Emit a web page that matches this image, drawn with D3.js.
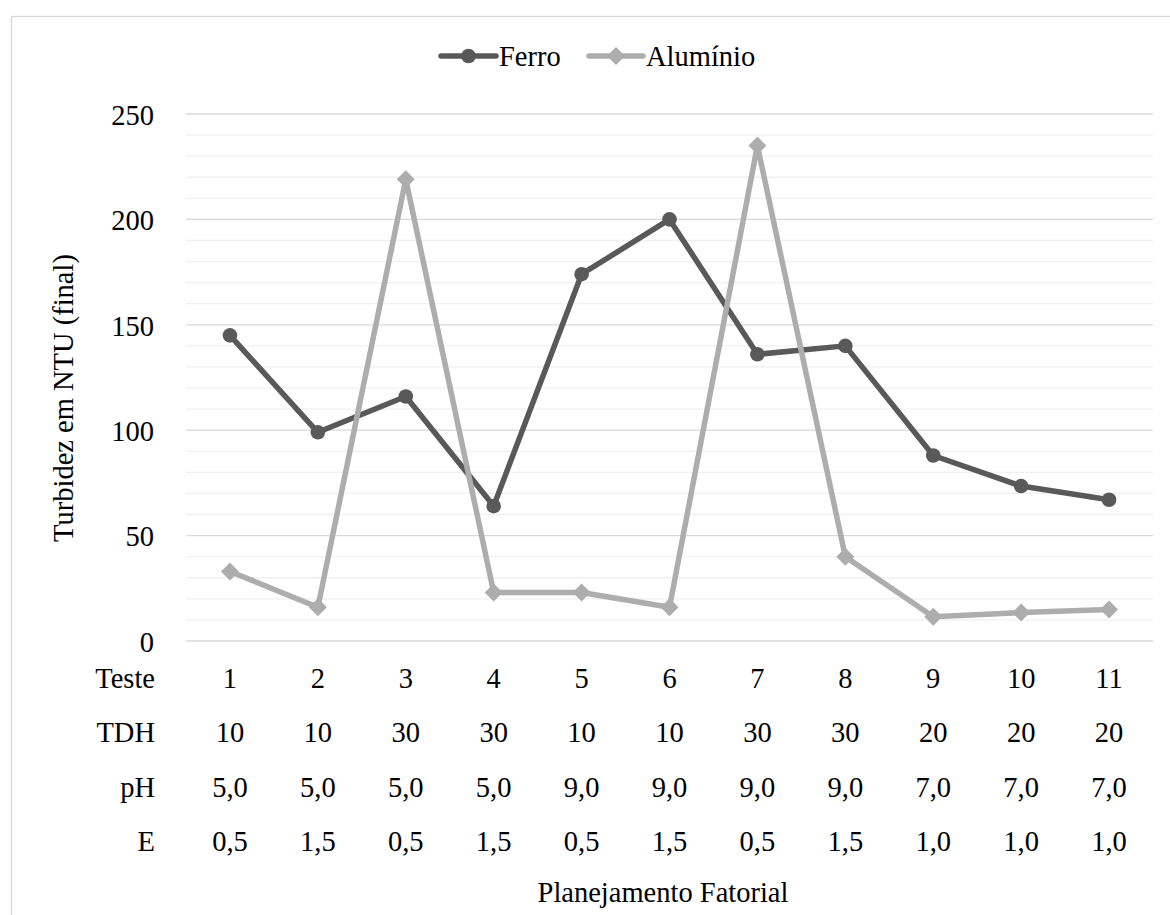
<!DOCTYPE html>
<html>
<head>
<meta charset="utf-8">
<script src="https://cdn.jsdelivr.net/npm/d3@7"></script>
</head>
<body style="margin:0">
<svg id="chart" width="1170" height="915" font-family="Liberation Serif"></svg>
<script>
// Test numbers and factorial levels
const testes = ["1", "2", "3", "4", "5", "6", "7", "8", "9", "10", "11"];
const tdh = ["10", "10", "30", "30", "10", "10", "30", "30", "20", "20", "20"];
const ph = ["5,0", "5,0", "5,0", "5,0", "9,0", "9,0", "9,0", "9,0", "7,0", "7,0", "7,0"];
const eLevels = ["0,5", "1,5", "0,5", "1,5", "0,5", "1,5", "0,5", "1,5", "1,0", "1,0", "1,0"];

// Final turbidity (NTU)
const ferro = [145, 99, 116, 64, 174, 200, 136, 140, 88, 73.5, 67];
const aluminio = [33, 16, 219, 23, 23, 16, 235, 40, 11.5, 13.5, 15];

const yTicks = [0, 50, 100, 150, 200, 250];
const rowLabels = ["Teste", "TDH", "pH", "E"];

const FS = 28.5;
const txt = sel => sel.style("font-family", d => "'Liberation Serif'").attr("font-size", FS);

const svg = d3.select("#chart");

// outer frame
svg.append("rect")
  .attr("x", 11.5).attr("y", 16.5)
  .attr("width", 1200).attr("height", 950)
  .attr("fill", "none").attr("stroke", "#d9d9d9").attr("stroke-width", 1.3);

const plot = { left: 186, right: 1153, top: 114, bottom: 641 };

const x = d3.scaleBand().domain(testes).range([plot.left, plot.right]);
const cx = d => x(d) + x.bandwidth() / 2;
const y = d3.scaleLinear().domain([0, 250]).range([plot.bottom, plot.top]);

// minor gridlines every 10
const minor = d3.range(10, 250, 10).filter(v => v % 50 !== 0);
svg.append("g").selectAll("line").data(minor).join("line")
  .attr("x1", plot.left).attr("x2", plot.right)
  .attr("y1", d => y(d)).attr("y2", d => y(d))
  .attr("stroke", "#f0f0f0").attr("stroke-width", 1.3);

// major gridlines
svg.append("g").selectAll("line").data(yTicks).join("line")
  .attr("x1", plot.left).attr("x2", plot.right)
  .attr("y1", d => y(d)).attr("y2", d => y(d))
  .attr("stroke", "#d9d9d9").attr("stroke-width", 1.3);

// y tick labels
const yAxis = d3.axisLeft(y).tickValues(yTicks).tickSize(0).tickPadding(32);
const gy = svg.append("g").attr("transform", `translate(${plot.left},0)`).call(yAxis);
gy.attr("font-family", "Liberation Serif").attr("font-size", FS);
gy.select(".domain").remove();
gy.selectAll("text").call(txt).attr("fill", "#000").attr("dy", "0.36em");

// category table below the plot
const rows = [testes, tdh, ph, eLevels];
const rowBase = [688, 742, 797, 851];
rows.forEach((vals, i) => {
  svg.selectAll(null).data([rowLabels[i]]).join("text")
    .call(txt)
    .attr("x", 155).attr("y", rowBase[i])
    .attr("text-anchor", "end")
    .text(d => d);
  svg.append("g").selectAll("text").data(vals).join("text")
    .call(txt)
    .attr("x", (d, j) => cx(testes[j]))
    .attr("y", rowBase[i])
    .attr("text-anchor", "middle")
    .text(d => d);
});

// axis titles
svg.selectAll(null).data(["Turbidez em NTU (final)"]).join("text")
  .call(txt)
  .attr("transform", `translate(73,398) rotate(-90)`)
  .attr("text-anchor", "middle")
  .text(d => d);
svg.selectAll(null).data(["Planejamento Fatorial"]).join("text")
  .call(txt)
  .attr("x", 663).attr("y", 902)
  .attr("text-anchor", "middle")
  .text(d => d);

// series
const diamond = {
  draw(ctx, size) {
    const r = Math.sqrt(size / 2);
    ctx.moveTo(0, -r); ctx.lineTo(r, 0); ctx.lineTo(0, r); ctx.lineTo(-r, 0); ctx.closePath();
  }
};
const series = [
  { name: "Ferro", values: ferro, color: "#595959", symbol: d3.symbolCircle, size: Math.PI * 7.3 * 7.3 },
  { name: "Alumínio", values: aluminio, color: "#adadad", symbol: diamond, size: 2 * 9 * 9 }
];

const line = d3.line().x((d, i) => cx(testes[i])).y(d => y(d));

series.forEach(s => {
  svg.append("path")
    .datum(s.values)
    .attr("d", line)
    .attr("fill", "none")
    .attr("stroke", s.color)
    .attr("stroke-width", 5.5)
    .attr("stroke-linejoin", "round")
    .attr("stroke-linecap", "round");
  svg.append("g").selectAll("path").data(s.values).join("path")
    .attr("transform", (d, i) => `translate(${cx(testes[i])},${y(d)})`)
    .attr("d", d3.symbol().type(s.symbol).size(s.size))
    .attr("fill", s.color);
});

// legend
const legend = [
  { s: series[0], x1: 441, x2: 496, tx: 499 },
  { s: series[1], x1: 589, x2: 643, tx: 646 }
];
legend.forEach(l => {
  svg.append("line")
    .attr("x1", l.x1).attr("x2", l.x2).attr("y1", 56).attr("y2", 56)
    .attr("stroke", l.s.color).attr("stroke-width", 5.5).attr("stroke-linecap", "round");
  svg.append("path")
    .attr("transform", `translate(${(l.x1 + l.x2) / 2},56)`)
    .attr("d", d3.symbol().type(l.s.symbol).size(l.s.size))
    .attr("fill", l.s.color);
  svg.selectAll(null).data([l.s.name]).join("text")
    .call(txt)
    .attr("x", l.tx).attr("y", 66)
    .text(d => d);
});
</script>
</body>
</html>
